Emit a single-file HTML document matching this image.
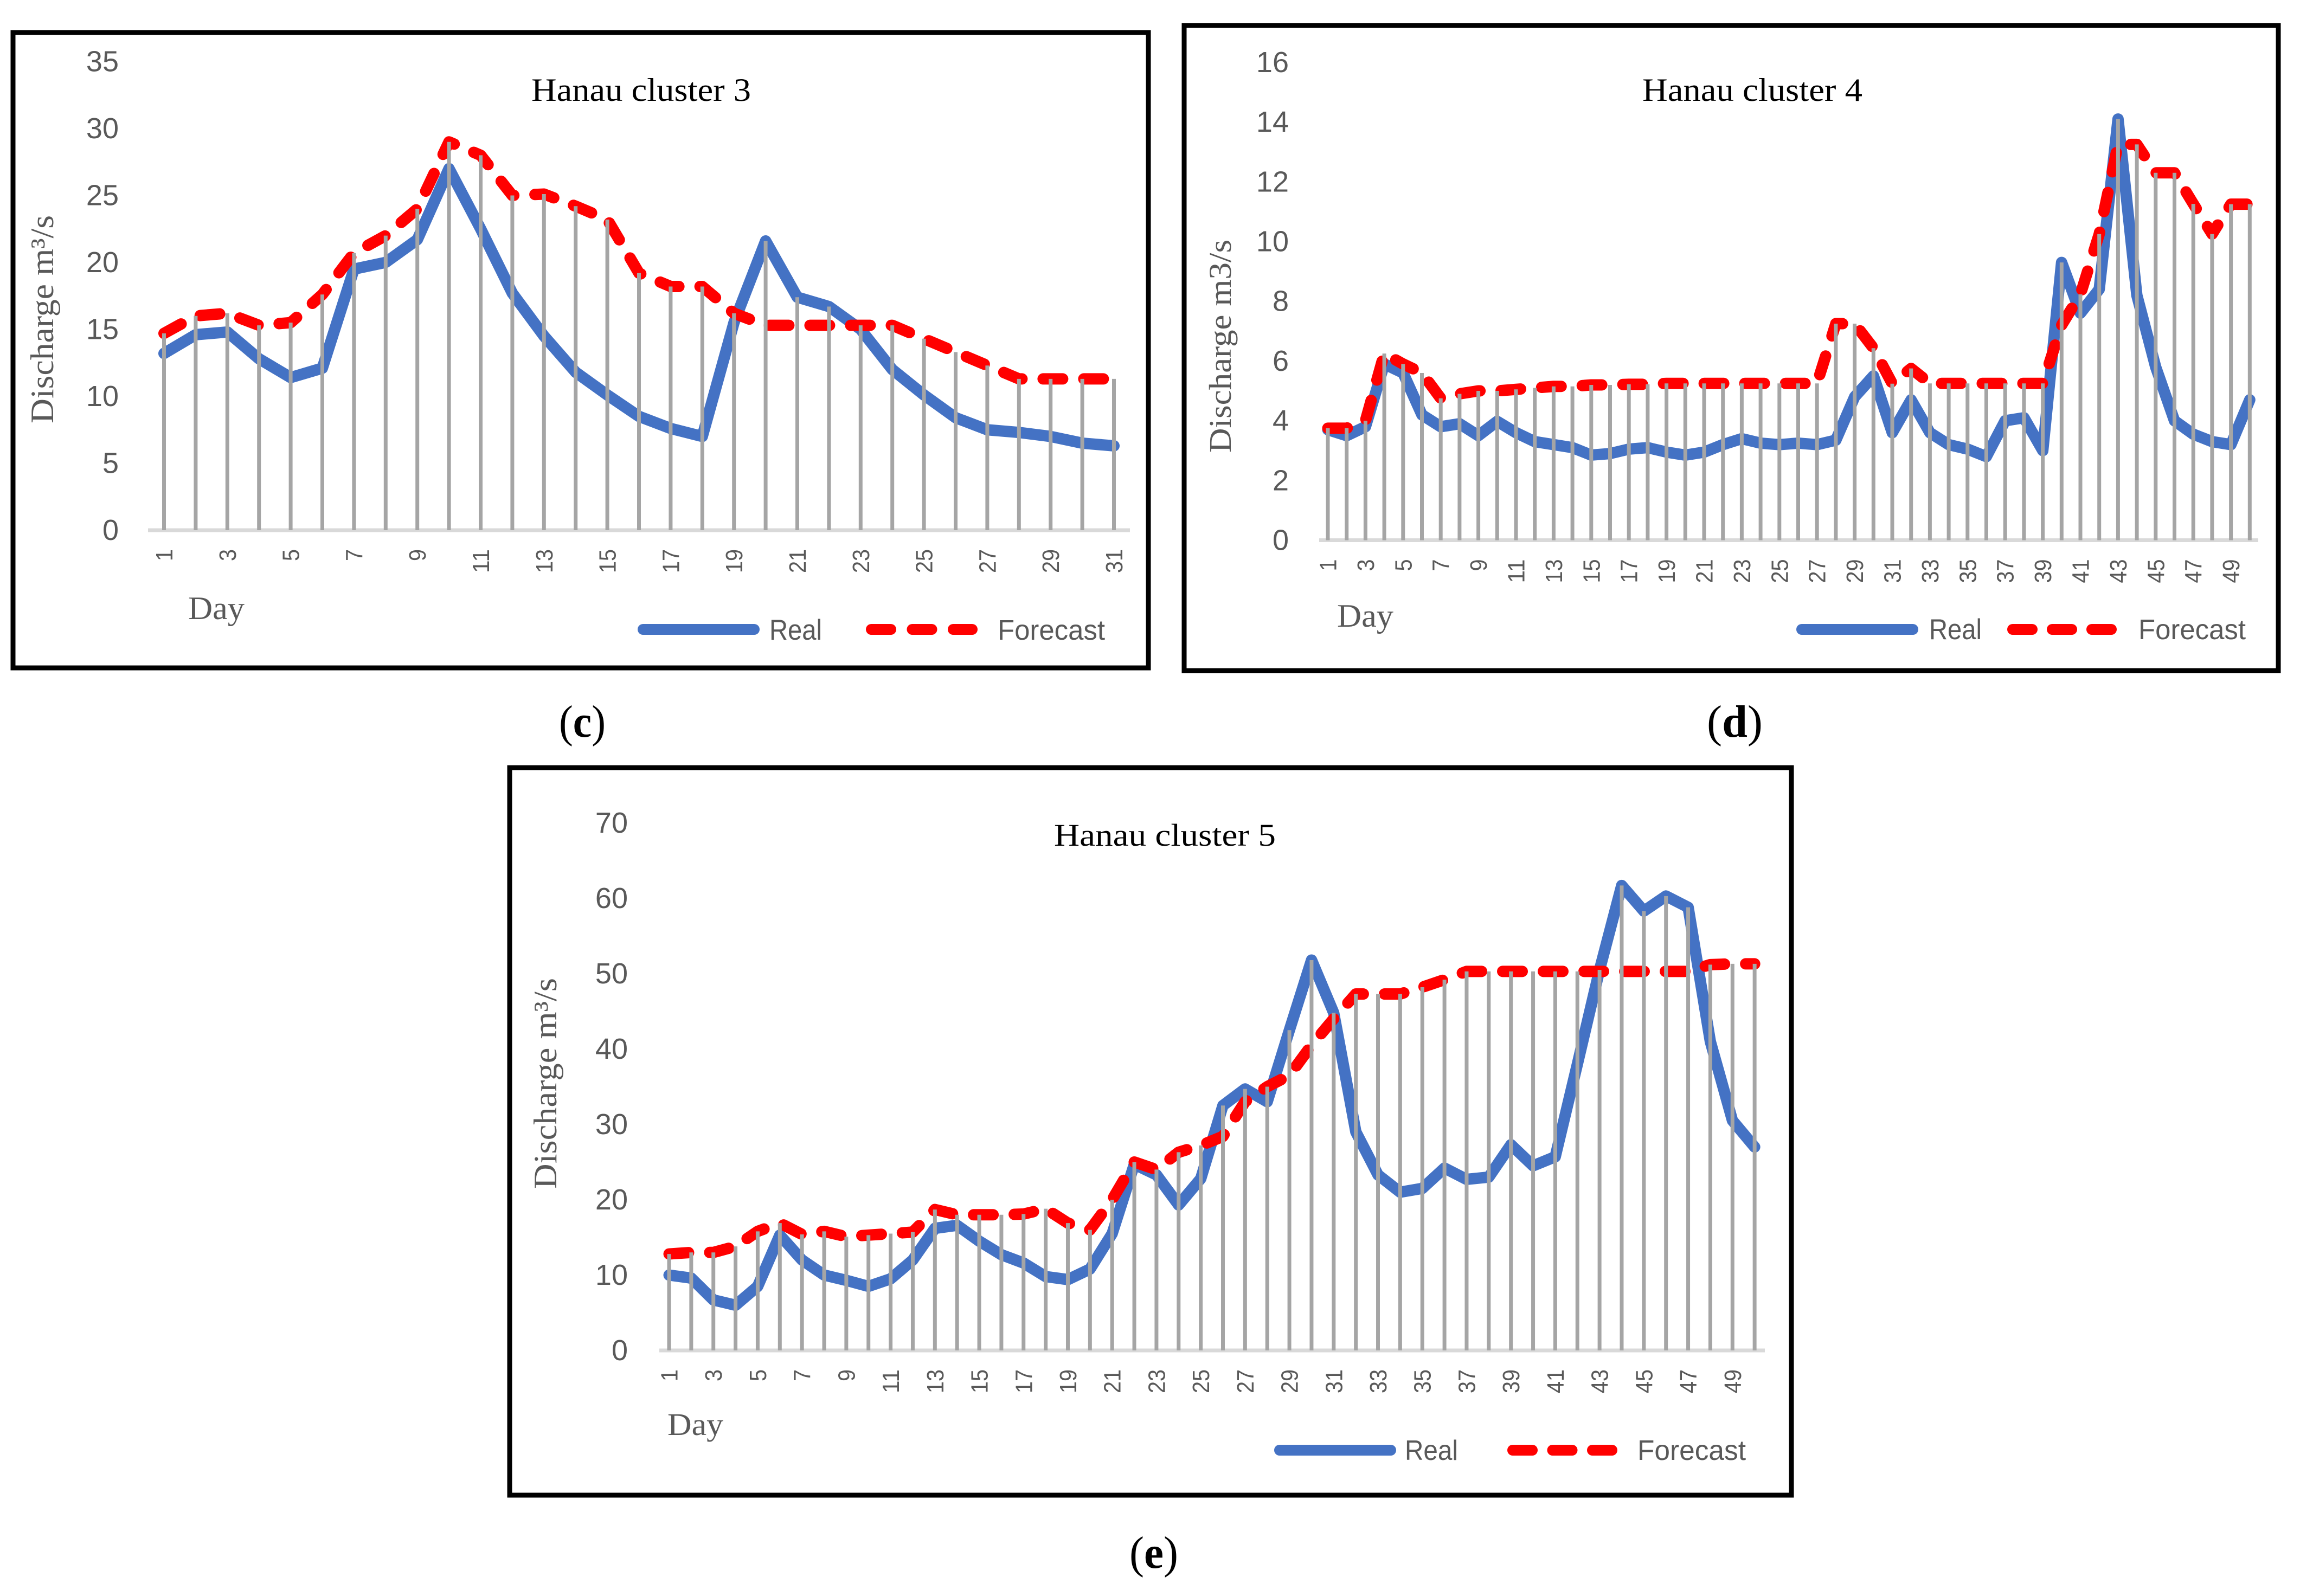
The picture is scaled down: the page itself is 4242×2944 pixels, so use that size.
<!DOCTYPE html>
<html lang="en">
<head>
<meta charset="utf-8">
<title>Hanau clusters: real and forecast discharge</title>
<style>
html,body{margin:0;padding:0;background:#fff;}
svg{display:block;}
.serif{font-family:"Liberation Serif",serif;}
.sans{font-family:"Liberation Sans",sans-serif;}
</style>
</head>
<body>
<svg id="figure" xmlns="http://www.w3.org/2000/svg" width="4242" height="2944" viewBox="0 0 4242 2944">
<rect x="0" y="0" width="4242" height="2944" fill="#fff"/>

<g id="chart-c">
  <rect x="24" y="60" width="2094" height="1172" fill="#fff" stroke="#000" stroke-width="9"/>
  <g class="marks"></g>
  <text class="serif" x="980" y="186" font-size="60" textLength="405" lengthAdjust="spacingAndGlyphs" fill="#000">Hanau cluster 3</text>
  <text class="serif" transform="translate(98 781) rotate(-90)" font-size="60" textLength="384" lengthAdjust="spacingAndGlyphs" fill="#595959">Discharge m³/s</text>
  <text class="serif" x="347" y="1142" font-size="60" textLength="104" lengthAdjust="spacingAndGlyphs" fill="#595959">Day</text>
  <g>
    <line x1="1186" y1="1161" x2="1391" y2="1161" stroke="#4472C4" stroke-width="20" stroke-linecap="round"/>
    <text class="sans" x="1419" y="1180" font-size="53" textLength="97" lengthAdjust="spacingAndGlyphs" fill="#595959">Real</text>
    <line x1="1607" y1="1161" x2="1793" y2="1161" stroke="#FF0000" stroke-width="20" stroke-linecap="round" stroke-dasharray="36 39.5"/>
    <text class="sans" x="1840" y="1180" font-size="52" textLength="198" lengthAdjust="spacingAndGlyphs" fill="#595959">Forecast</text>
  </g>
  <text class="serif" x="1031" y="1359" font-size="84" textLength="86" lengthAdjust="spacingAndGlyphs" fill="#000">(<tspan font-weight="bold">c</tspan>)</text>
</g>

<g id="chart-d">
  <rect x="2184" y="47" width="2018" height="1190" fill="#fff" stroke="#000" stroke-width="9"/>
  <g class="marks"></g>
  <text class="serif" x="3029" y="186" font-size="60" textLength="406" lengthAdjust="spacingAndGlyphs" fill="#000">Hanau cluster 4</text>
  <text class="serif" transform="translate(2270 835) rotate(-90)" font-size="58" textLength="393" lengthAdjust="spacingAndGlyphs" fill="#595959">Discharge m3/s</text>
  <text class="serif" x="2466" y="1156" font-size="60" textLength="104" lengthAdjust="spacingAndGlyphs" fill="#595959">Day</text>
  <g>
    <line x1="3323" y1="1161" x2="3528" y2="1161" stroke="#4472C4" stroke-width="20" stroke-linecap="round"/>
    <text class="sans" x="3558" y="1179" font-size="53" textLength="97" lengthAdjust="spacingAndGlyphs" fill="#595959">Real</text>
    <line x1="3712" y1="1161" x2="3894" y2="1161" stroke="#FF0000" stroke-width="20" stroke-linecap="round" stroke-dasharray="36 37"/>
    <text class="sans" x="3944" y="1179" font-size="52" textLength="198" lengthAdjust="spacingAndGlyphs" fill="#595959">Forecast</text>
  </g>
  <text class="serif" x="3148" y="1359" font-size="84" textLength="103" lengthAdjust="spacingAndGlyphs" fill="#000">(<tspan font-weight="bold">d</tspan>)</text>
</g>

<g id="chart-e">
  <rect x="940" y="1416" width="2364" height="1342" fill="#fff" stroke="#000" stroke-width="9"/>
  <g class="marks"></g>
  <text class="serif" x="1944" y="1560" font-size="58" textLength="409" lengthAdjust="spacingAndGlyphs" fill="#000">Hanau cluster 5</text>
  <text class="serif" transform="translate(1026 2193) rotate(-90)" font-size="60" textLength="389" lengthAdjust="spacingAndGlyphs" fill="#595959">Discharge m³/s</text>
  <text class="serif" x="1231" y="2647" font-size="58" textLength="103" lengthAdjust="spacingAndGlyphs" fill="#595959">Day</text>
  <g>
    <line x1="2360" y1="2675" x2="2565" y2="2675" stroke="#4472C4" stroke-width="20" stroke-linecap="round"/>
    <text class="sans" x="2591" y="2693" font-size="52" textLength="98" lengthAdjust="spacingAndGlyphs" fill="#595959">Real</text>
    <line x1="2790" y1="2675" x2="2973" y2="2675" stroke="#FF0000" stroke-width="20" stroke-linecap="round" stroke-dasharray="36 37.5"/>
    <text class="sans" x="3020" y="2693" font-size="52" textLength="200" lengthAdjust="spacingAndGlyphs" fill="#595959">Forecast</text>
  </g>
  <text class="serif" x="2083" y="2892" font-size="84" textLength="90" lengthAdjust="spacingAndGlyphs" fill="#000">(<tspan font-weight="bold">e</tspan>)</text>
</g>
</svg>

<script>
const daysC = [1,2,3,4,5,6,7,8,9,10,11,12,13,14,15,16,17,18,19,20,21,22,23,24,25,26,27,28,29,30,31];
const realC = [13.2,14.6,14.8,12.8,11.4,12.1,19.5,20,21.7,27.0,22.5,17.7,14.5,11.8,10.1,8.5,7.6,7.0,15.5,21.6,17.4,16.7,15,12,10.1,8.4,7.5,7.3,7,6.5,6.3];
const forecastC = [14.7,16,16.2,15.3,15.5,17.6,20.7,22,24,29,28,25,25.1,24.2,23.2,19.2,18.2,18.2,16.2,15.3,15.3,15.3,15.3,15.3,14.3,13.3,12.3,11.3,11.3,11.3,11.3];
const yTicksC = [0,5,10,15,20,25,30,35];

const daysD = [1,2,3,4,5,6,7,8,9,10,11,12,13,14,15,16,17,18,19,20,21,22,23,24,25,26,27,28,29,30,31,32,33,34,35,36,37,38,39,40,41,42,43,44,45,46,47,48,49,50];
const realD = [3.7,3.5,3.8,5.9,5.6,4.2,3.8,3.9,3.5,3.98,3.6,3.3,3.2,3.1,2.85,2.9,3.05,3.1,2.95,2.85,2.95,3.2,3.4,3.25,3.2,3.25,3.2,3.35,4.8,5.5,3.6,4.7,3.6,3.2,3.05,2.8,4.0,4.1,3.0,9.3,7.6,8.4,14.1,8.2,5.8,4,3.55,3.3,3.2,4.7];
const forecastD = [3.75,3.75,4,6.25,5.9,5.6,4.75,4.9,5,5,5.05,5.1,5.15,5.15,5.2,5.2,5.22,5.22,5.25,5.25,5.25,5.25,5.25,5.25,5.25,5.25,5.25,7.25,7.25,6.43,5.24,5.75,5.25,5.25,5.25,5.25,5.25,5.25,5.25,7.2,8.23,10.25,13.25,13.25,12.3,12.3,11.26,10.25,11.25,11.25];
const yTicksD = [0,2,4,6,8,10,12,14,16];

const daysE = [1,2,3,4,5,6,7,8,9,10,11,12,13,14,15,16,17,18,19,20,21,22,23,24,25,26,27,28,29,30,31,32,33,34,35,36,37,38,39,40,41,42,43,44,45,46,47,48,49,50];
const realE = [10,9.6,6.7,6,8.5,15.3,12,10,9.3,8.5,9.5,12,16.2,16.6,14.5,12.7,11.6,9.8,9.4,10.8,15.5,24.7,23.3,19.3,22.8,32.5,34.7,33,42.5,51.8,44.8,29,23.3,21,21.5,24.2,22.7,23,27.3,24.5,25.7,38,50.5,61.7,58.3,60.3,58.8,41,30.5,27];
const forecastE = [12.8,13,13,13.8,15.8,16.9,15.4,15.8,15.1,15.3,15.5,15.7,18.7,18,18,18,18.1,18.8,16.9,16,20,25,24,26.3,27.2,28.4,33,35,36.5,40.5,44,47.3,47.3,47.3,48.2,49.2,50.3,50.3,50.3,50.3,50.3,50.3,50.3,50.3,50.3,50.3,50.3,51.2,51.3,51.3];
const yTicksE = [0,10,20,30,40,50,60,70];

const SVG_NS = 'http://www.w3.org/2000/svg';

function make(parent, tag, attrs) {
  const el = document.createElementNS(SVG_NS, tag);
  for (const key in attrs) el.setAttribute(key, attrs[key]);
  parent.appendChild(el);
  return el;
}

function drawChart(id, days, real, forecast, yTicks, g) {
  const marks = document.querySelector('#' + id + ' .marks');
  const xAxis = function (i) { return g.x0 + i * g.step; };
  const yAxis = function (v) { return g.y0 - v * g.unit; };

  yTicks.forEach(function (t) {
    const el = make(marks, 'text', {
      x: g.tickRight, y: yAxis(t) + 18, 'text-anchor': 'end', 'font-size': 54,
      fill: '#595959', 'font-family': '"Liberation Sans", sans-serif'
    });
    
    
    el.textContent = t;
  });

  const axis = make(marks, 'line', {
    x1: g.axisStart, x2: g.axisEnd, y1: g.y0, y2: g.y0, stroke: '#D9D9D9', 'stroke-width': 7
  });
  
  

  const toPoints = function (series) {
    return series.map(function (v, i) { return xAxis(i) + ',' + yAxis(v); }).join(' ');
  };

  const realLine = make(marks, 'polyline', {
    points: toPoints(real), fill: 'none', stroke: '#4472C4', 'stroke-width': 21,
    'stroke-linejoin': 'round', 'stroke-linecap': 'round'
  });
  
  

  const forecastLine = make(marks, 'polyline', {
    points: toPoints(forecast), fill: 'none', stroke: '#FF0000', 'stroke-width': 21,
    'stroke-linejoin': 'round', 'stroke-linecap': 'round', 'stroke-dasharray': '36 39'
  });
  
  

  days.forEach(function (d, i) {
    const top = Math.max(real[i], forecast[i]);
    const drop = make(marks, 'line', {
      x1: xAxis(i), x2: xAxis(i), y1: g.y0, y2: yAxis(top), stroke: '#A5A5A5', 'stroke-width': 7
    });
    
    

    if (i % 2 === 0) {
      const tx = xAxis(i) + 15.5;
      const ty = g.y0 + 35;
      const label = make(marks, 'text', {
        x: 0, y: 0, transform: 'translate(' + tx + ' ' + ty + ') rotate(-90)',
        'text-anchor': 'end', 'font-size': 44, fill: '#595959',
        textLength: String(d).length * 22, lengthAdjust: 'spacingAndGlyphs',
        'font-family': '"Liberation Sans", sans-serif'
      });
      
      
      label.textContent = d;
    }
  });
}

drawChart('chart-c', daysC, realC, forecastC, yTicksC,
  {x0: 302.5, step: 58.4, y0: 978, unit: 24.7, tickRight: 219, axisStart: 273, axisEnd: 2084});
drawChart('chart-d', daysD, realD, forecastD, yTicksD,
  {x0: 2449, step: 34.7, y0: 996.5, unit: 55.1, tickRight: 2377, axisStart: 2433, axisEnd: 4165});
drawChart('chart-e', daysE, realE, forecastE, yTicksE,
  {x0: 1234, step: 40.86, y0: 2491, unit: 13.9, tickRight: 1158, axisStart: 1216, axisEnd: 3255});
</script>
</body>
</html>
